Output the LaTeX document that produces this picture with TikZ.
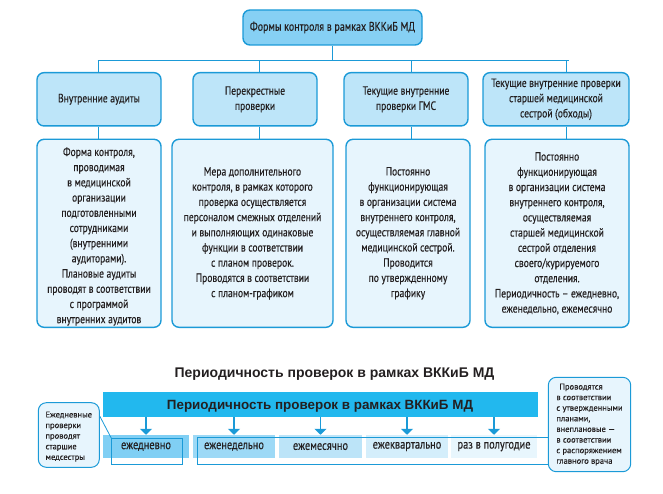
\documentclass[tikz,border=0pt]{standalone}
\usepackage{fontspec}
\setmainfont{PT Sans}
\newfontfamily\condf{PT Sans}[FakeStretch=0.8,FakeBold=0.3]
\newfontfamily\callf{PT Sans}[FakeBold=0.2]
\newfontfamily\titlef{Liberation Sans}
\usetikzlibrary{arrows.meta,calc}
\definecolor{bline}{HTML}{1B9AD7}
\definecolor{topfill}{HTML}{86D0F4}
\definecolor{midfill}{HTML}{BDE5F9}
\definecolor{lowfill}{HTML}{E7F5FD}
\definecolor{bannerc}{HTML}{22B8EE}
\definecolor{txt}{HTML}{231F20}
\definecolor{cellA}{HTML}{80CFF4}
\definecolor{cellB}{HTML}{9DD9F6}
\definecolor{cellC}{HTML}{BCE4F8}
\definecolor{cellD}{HTML}{D4EEFB}
\definecolor{cellE}{HTML}{E8F6FD}
\tikzset{
  rbox/.style={draw=bline, line width=1.4pt, rounded corners=7pt, text=txt, align=center,
    inner sep=0pt, font=\condf\fontsize{12}{15.2}\selectfont},
  conn/.style={draw=bline, line width=0.9pt},
  cellbox/.style={inner sep=0pt, minimum height=23.3pt, text=txt, font=\condf\fontsize{13}{15}\selectfont},
  outl/.style={draw=bline, line width=0.9pt, inner sep=0pt},
  callout/.style={draw=bline, line width=1pt, fill=lowfill, rounded corners=8pt, align=left,
    inner sep=0pt, text=txt, font=\callf\fontsize{8.5}{10.6}\selectfont},
  arr/.style={draw=bline, line width=1.2pt, -{Triangle[width=12pt,length=6pt]}}
}
\begin{document}
\begin{tikzpicture}[x=1pt,y=-1pt]
\useasboundingbox (0,0) rectangle (663,494);
% top
\node[rbox, fill=topfill, minimum width=179pt, minimum height=35pt, font=\condf\fontsize{12.5}{15}\selectfont]
  (top) at (332.5,27.5) {Формы контроля в рамках ВККиБ МД};
% row 2
\node[rbox, fill=midfill, minimum width=124pt, minimum height=53.3pt] (a2) at (99,99.3) {Внутренние аудиты};
\node[rbox, fill=midfill, minimum width=124pt, minimum height=53.3pt] (b2) at (255,99.3) {Перекрестные\\проверки};
\node[rbox, fill=midfill, minimum width=124pt, minimum height=53.3pt] (c2) at (406,99.3) {Текущие внутренние\\проверки ГМС};
\node[rbox, fill=midfill, minimum width=146pt, minimum height=53.3pt] (d2) at (556,99.3) {Текущие внутренние проверки\\старшей медицинской\\сестрой (обходы)};
% row 3
\node[rbox, fill=lowfill, minimum width=124pt, minimum height=188pt] (a3) at (99,233.3)
  {\rule{0pt}{15pt}Форма контроля,\\проводимая\\в медицинской\\организации\\подготовленными\\сотрудниками\\(внутренними\\аудиторами).\\Плановые аудиты\\проводят в соответствии\\с программой\\внутренних аудитов};
\node[rbox, fill=lowfill, minimum width=161pt, minimum height=188pt] (b3) at (252.5,233.3)
  {Мера дополнительного\\контроля, в рамках которого\\проверка осуществляется\\персоналом смежных отделений\\и выполняющих одинаковые\\функции в соответствии\\с планом проверок.\\Проводятся в соответствии\\с планом-графиком};
\node[rbox, fill=lowfill, minimum width=124pt, minimum height=188pt] (c3) at (408,233.3)
  {Постоянно\\функционирующая\\в организации система\\внутреннего контроля,\\осуществляемая главной\\медицинской сестрой.\\Проводится\\по утвержденному\\графику};
\node[rbox, fill=lowfill, minimum width=144pt, minimum height=188pt] (d3) at (557,233.3)
  {Постоянно\\функционирующая\\в организации система\\внутреннего контроля,\\осуществляемая\\старшей медицинской\\сестрой отделения\\своего/курируемого\\отделения.\\Периодичность – ежедневно,\\еженедельно, ежемесячно};
% connectors
\coordinate (hl) at (97.5,60.7);
\coordinate (hr) at (568.5,60.7);
\coordinate (ja) at (98.3,60.7);
\coordinate (jb) at (259.3,60.7);
\coordinate (jc) at (411,60.7);
\coordinate (jd) at (566.7,60.7);
\draw[conn] (top.south) -- (top.south |- hl);
\draw[conn] (hl) -- (hr);
\draw[conn] (ja) -- (ja |- a2.north);
\draw[conn] (jb) -- (jb |- b2.north);
\draw[conn] (jc) -- (jc |- c2.north);
\draw[conn] (jd) -- (jd |- d2.north);
\draw[conn] (ja |- a2.south) -- (ja |- a3.north);
\draw[conn] (jb |- b2.south) -- (jb |- b3.north);
\draw[conn] (jc |- c2.south) -- (jc |- c3.north);
\draw[conn] (jd |- d2.south) -- (jd |- d3.north);
% bottom section
\node[anchor=base, text=txt, font=\titlef\bfseries\fontsize{14}{16}\selectfont] (title) at (334.5,377.5)
  {Периодичность проверок в рамках ВККиБ МД};
\node[fill=bannerc, inner sep=0pt, minimum width=435pt, minimum height=25pt] (banner) at (320.5,404.5) {};
\node[anchor=base, text=txt, font=\titlef\bfseries\fontsize{13.4}{15}\selectfont] (bantext) at (320,409.5)
  {Периодичность проверок в рамках ВККиБ МД};
\node[cellbox, fill=cellA, minimum width=86pt] (e1) at (146,446.6) {ежедневно};
\node[cellbox, fill=cellB, minimum width=82pt] (e2) at (234,446.6) {еженедельно};
\node[cellbox, fill=cellC, minimum width=83pt] (e3) at (320.5,446.6) {ежемесячно};
\node[cellbox, fill=cellD, minimum width=82pt] (e4) at (407,446.6) {ежеквартально};
\node[cellbox, fill=cellE, minimum width=86pt] (e5) at (494,446.6) {раз в полугодие};
\foreach \c in {e1,e2,e3,e4,e5}{
  \draw[arr] (banner.south -| \c.north) -- (\c.north);
}
\node[outl, minimum width=70.6pt, minimum height=25.5pt] (o1) at (147,451.25) {};
\node[outl, minimum width=350.8pt, minimum height=26.5pt] (o2) at (372.9,450.75) {};
\node[callout, minimum width=61pt, minimum height=64.6pt] (lc) at (68.8,435)
  {\rule{0pt}{9pt}Ежедневные\\проверки\\проводят\\старшие\\медсестры};
\node[callout, minimum width=82.4pt, minimum height=94.4pt] (rc) at (589.5,424.5)
  {\hspace{3pt}Проводятся\\в соответствии\\с утвержденными\\планами,\\внеплановые —\\в соответствии\\с распоряжением\\главного врача};
\draw[draw=bline, line width=0.8pt] ($(lc.north east)+(0,14)$) -- (o1.north west);
\end{tikzpicture}
\end{document}
